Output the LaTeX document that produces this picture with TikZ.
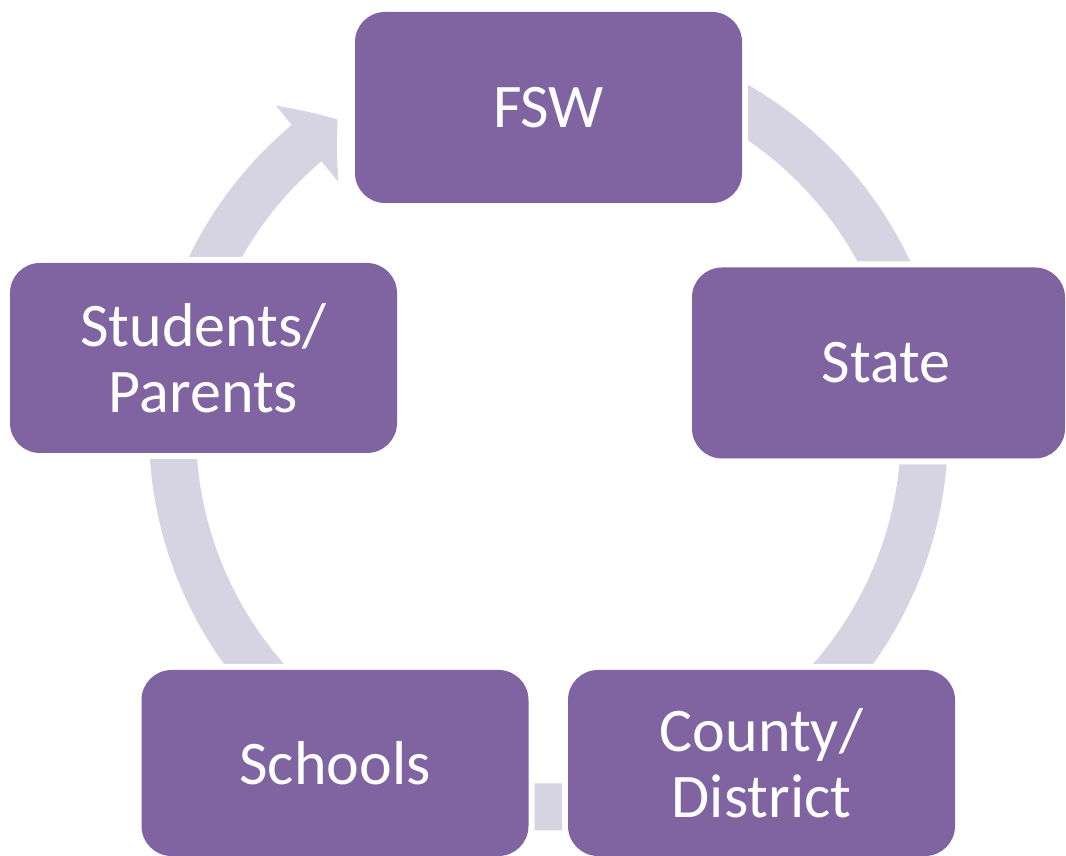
\documentclass[tikz,border=0pt]{standalone}
\usepackage{fontspec}
\setmainfont{Carlito}
\usepackage{tikz}
\usetikzlibrary{calc,arrows.meta,bending}
\definecolor{boxpurple}{HTML}{8064A2}
\definecolor{arrowlav}{HTML}{D6D3E3}
\tikzset{
  cycbox/.style={rectangle, rounded corners=15pt, fill=boxpurple, text=white, inner sep=0pt, align=center,
    font=\fontsize{31pt}{33pt}\selectfont, minimum width=193.5pt, minimum height=95.5pt,
    preaction={draw=white, line width=6pt}},
  cycarrow/.style={draw=arrowlav, line width=23.5pt}
}

\begin{document}
\begin{tikzpicture}[x=0.5pt,y=0.5pt]
  \useasboundingbox (0,0) rectangle (1066,856);
  \coordinate (c) at (548.5,425);
  % arcs of the cycle, the boxes cover their ends
  \coordinate (a1) at ($(c)+(75:376)$);
  \coordinate (a2) at ($(c)+(0:376)$);
  \coordinate (a3) at ($(c)+(-80:376)$);
  \coordinate (a4) at ($(c)+(-115:376)$);
  \coordinate (a5) at ($(c)+(157:376)$);
  \draw[cycarrow] (a1) arc[start angle=75, end angle=10, radius=376];
  \draw[cycarrow] (a2) arc[start angle=0, end angle=-65, radius=376];
  \draw[cycarrow] (a3) arc[start angle=-80, end angle=-100, radius=376];
  \draw[cycarrow] (a4) arc[start angle=-115, end angle=-180, radius=376];
  \draw[cycarrow, -{Triangle[length=19.5pt,width=48pt,bend]}] (a5) arc[start angle=157, end angle=124.1, radius=376];
  % boxes
  \node[cycbox] (fsw) at (548.5,748.5) {FSW};
  \node[cycbox, minimum width=186.5pt] (state) at (878.5,493) {\hspace*{7.5pt}State};
  \node[cycbox, minimum height=93pt] (county) at (761.5,93) {County/\\District};
  \node[cycbox, minimum height=93pt] (schools) at (335,93) {Schools};
  \node[cycbox, minimum height=95pt] (students) at (203.5,498) {Students/\\Parents};
\end{tikzpicture}
\end{document}
